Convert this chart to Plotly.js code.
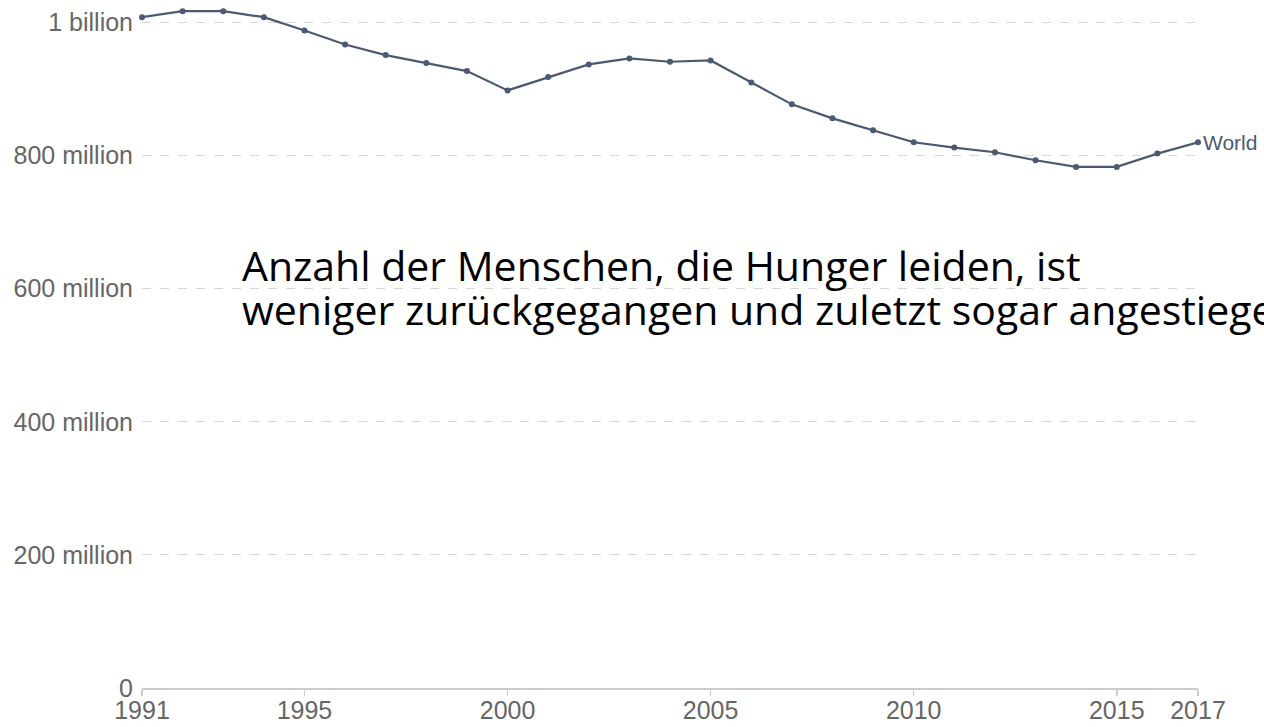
<!DOCTYPE html>
<html><head><meta charset="utf-8">
<script src="https://cdn.plot.ly/plotly-3.0.1.min.js"></script>
<style>html,body{margin:0;padding:0;background:#fff;overflow:hidden}#chart{width:1264px;height:727px}</style>
</head><body><div id="chart"></div>
<script>
const years = [1991,1992,1993,1994,1995,1996,1997,1998,1999,2000,2001,2002,2003,2004,2005,2006,2007,2008,2009,2010,2011,2012,2013,2014,2015,2016,2017];
const undernourishedMillions = [1008,1017,1017,1008,988,967,951,939,927,898,918,937,946,941,943,910,877,856,838,820,812,805,793,783,783,803,820];
const seriesName = "World";
const yTickValues = [0,200e6,400e6,600e6,800e6,1e9];
const yTickLabels = ["0","200 million","400 million","600 million","800 million","1 billion"];
const xTickValues = [1991,1995,2000,2005,2010,2015,2017];
const noteLines = ["Anzahl der Menschen, die Hunger leiden, ist",
                   "weniger zurückgegangen und zuletzt sogar angestiegen"];

const values = undernourishedMillions.map(v => v * 1e6);
const lineColor = "#4a5a73";

const trace = {
  x: years, y: values, type: "scatter", mode: "lines+markers",
  line: {color: lineColor, width: 2.2},
  marker: {color: lineColor, size: 6},
  cliponaxis: false, hoverinfo: "x+y"
};

const M = {l: 142, r: 66, t: 5, b: 39};
const plotW = 1264 - M.l - M.r, plotH = 727 - M.t - M.b;
const px = x => (x - M.l) / plotW;
const py = y => 1 - (y - M.t) / plotH;

const layout = {
  width: 1264, height: 727,
  margin: M,
  paper_bgcolor: "#fff", plot_bgcolor: "#fff",
  showlegend: false,
  font: {family: "Liberation Sans, Arial, sans-serif", color: "#666", size: 25},
  xaxis: {
    range: [1991, 2017], tickvals: xTickValues, ticktext: xTickValues.map(String),
    showgrid: false, zeroline: false,
    showline: true, linecolor: "#ccc", linewidth: 1.5,
    ticks: "outside", ticklen: 6, tickcolor: "#ccc", tickwidth: 1.5,
    ticklabelstandoff: -7,
    tickfont: {size: 25, color: "#666"}
  },
  yaxis: {
    range: [0, 1.0263e9], tickvals: yTickValues, ticktext: yTickLabels,
    showgrid: true, gridcolor: "#d6d6d6", griddash: "dash", gridwidth: 1,
    zeroline: false, showline: false, ticks: "",
    ticklabelstandoff: 8,
    tickfont: {size: 25, color: "#666"}
  },
  annotations: [
    {x: years[years.length-1], y: values[values.length-1], xref: "x", yref: "y",
     text: seriesName, showarrow: false, xanchor: "left", yanchor: "middle", xshift: 3,
     font: {size: 21, color: lineColor, family: "Liberation Sans, Arial, sans-serif"}},
    {x: px(240), y: py(265), xref: "paper", yref: "paper", text: noteLines[0], showarrow: false,
     align: "left", xanchor: "left", yanchor: "middle",
     font: {size: 41, color: "#000", family: "Open Sans, sans-serif"}},
    {x: px(240), y: py(309), xref: "paper", yref: "paper", text: noteLines[1], showarrow: false,
     align: "left", xanchor: "left", yanchor: "middle",
     font: {size: 41, color: "#000", family: "Open Sans, sans-serif"}}
  ]
};

Plotly.newPlot("chart", [trace], layout, {displayModeBar: false, staticPlot: true});
</script></body></html>
